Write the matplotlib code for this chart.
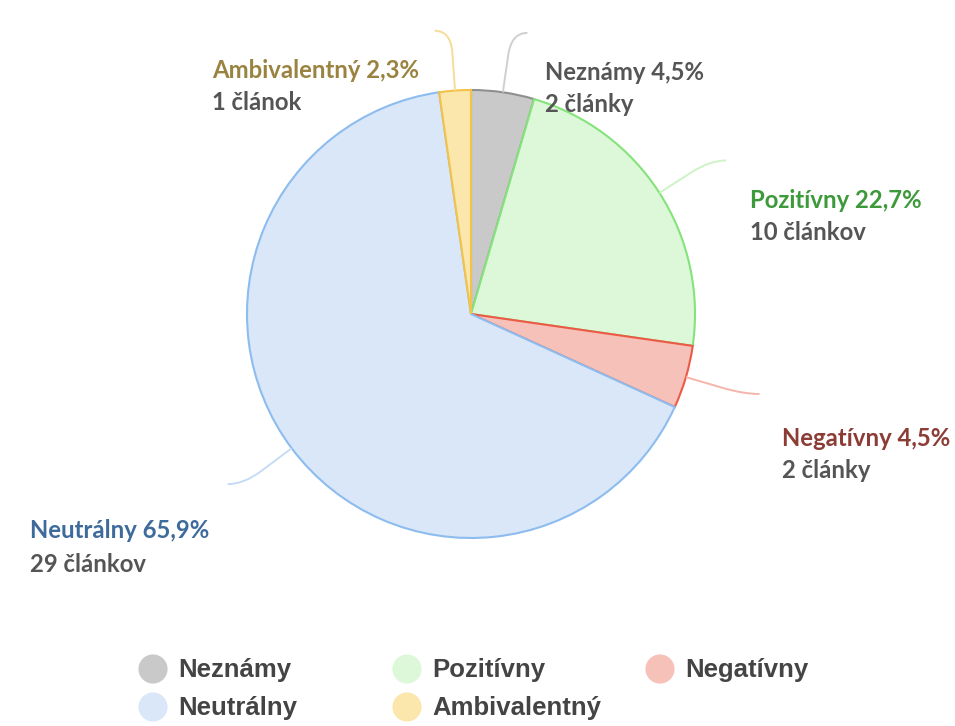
import numpy as np
import matplotlib.pyplot as plt
from matplotlib.path import Path
from matplotlib.patches import PathPatch

names = ["Neznámy", "Pozitívny", "Negatívny", "Neutrálny", "Ambivalentný"]
counts = [2, 10, 2, 29, 1]
count_words = ["2 články", "10 článkov", "2 články", "29 článkov", "1 článok"]

fills = ["#c9c9c9", "#ddf8d9", "#f6c1b9", "#d9e7f8", "#fbe6ab"]
edges = ["#8f8f8f", "#84e37b", "#ec5a45", "#8dbcef", "#f2c24a"]
leader_colors = ["#cfcfcf", "#cdf3c7", "#f5b5ab", "#c6dcf5", "#f7dc98"]
label_colors = ["#555555", "#3d9a3a", "#8c3b35", "#3f6b9c", "#9a8340"]

W, H = 955, 726
cx, cy, R = 471, 726 - 314, 224

fig = plt.figure(figsize=(W / 100, H / 100), dpi=100)
ax = fig.add_axes([0, 0, 1, 1])

wedges, _ = ax.pie(counts, colors=fills, startangle=90, counterclock=False,
                   center=(cx, cy), radius=R, frame=True,
                   wedgeprops=dict(linewidth=1.5))
for w, ec in zip(wedges, edges):
    w.set_edgecolor(ec)
ax.set_xlim(0, W)
ax.set_ylim(0, H)
ax.set_aspect("equal")
ax.axis("off")

# leader lines: radial, then bending toward horizontal
total = sum(counts)
start = 90.0
for i, c in enumerate(counts):
    sweep = c / total * 360
    mid = np.radians(start - sweep / 2)
    start -= sweep
    ux, uy = np.cos(mid), np.sin(mid)
    side = 1 if ux >= 0 else -1
    pa = (cx + R * ux, cy + R * uy)
    pb = (cx + (R + 38) * ux, cy + (R + 38) * uy)
    pc = (cx + (R + 60) * ux, cy + (R + 60) * uy)
    pd = (pc[0] + side * 16, pc[1])
    path = Path([pa, pb, pc, pd], [Path.MOVETO, Path.LINETO, Path.CURVE3, Path.CURVE3])
    ax.add_patch(PathPatch(path, fill=False, edgecolor=leader_colors[i], lw=1.4))

# labels (pixel positions, first line centre)
label_pos = [(545, 72), (750, 200), (782, 438), (30, 531), (212, 70)]
for i, (lx, ly) in enumerate(label_pos):
    pct = f"{counts[i] / total * 100:.1f}".replace(".", ",")
    ax.text(lx, H - ly, f"{names[i]} {pct}%", color=label_colors[i],
            fontsize=17.2, family="Lato", fontweight="bold", va="center", ha="left")
    ax.text(lx, H - ly - 33, count_words[i], color="#555555",
            fontsize=17.2, family="Lato", fontweight="bold", va="center", ha="left")

# legend
col_x = [153, 407, 660]
row_y = [669, 707]
for i, n in enumerate(names):
    r, c = divmod(i, 3)
    ax.scatter(col_x[c], H - row_y[r], s=440, color=fills[i], edgecolor="none")
    ax.text(col_x[c] + 25, H - row_y[r] - 1, n, color="#444444", fontsize=18.5,
            family="Liberation Sans", fontweight="bold", va="center", ha="left")

fig.savefig("out.png", dpi=100, facecolor="white")
